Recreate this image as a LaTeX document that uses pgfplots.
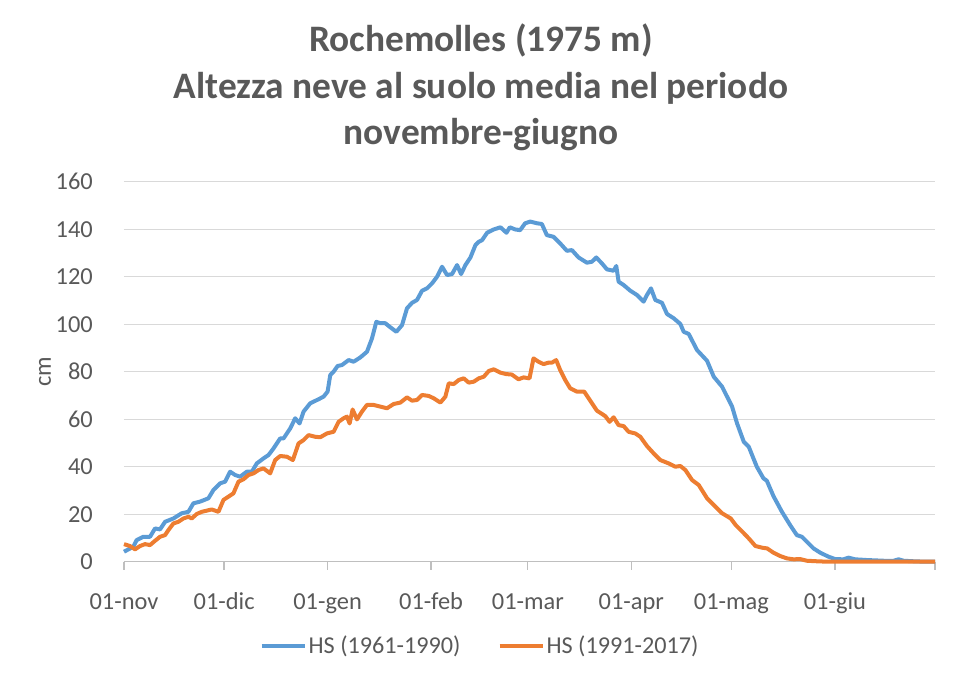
\documentclass[border=0pt]{standalone}
\usepackage{fontspec}
\setmainfont{Carlito}
\usepackage{pgfplots}
\pgfplotsset{compat=1.18}
\definecolor{txt}{HTML}{595959}
\definecolor{gridc}{HTML}{D9D9D9}
\definecolor{axc}{HTML}{BFBFBF}
\definecolor{sblue}{HTML}{5B9BD5}
\definecolor{sorange}{HTML}{ED7D31}
\begin{document}
\begin{tikzpicture}
\useasboundingbox (-124bp,-115.3bp) rectangle (834bp,561.7bp);
\begin{axis}[
  scale only axis, width=811bp, height=380bp,
  at={(0,0)}, anchor=south west,
  xmin=0, xmax=243, ymin=0, ymax=160,
  clip=false,
  axis x line=bottom, axis y line=left,
  axis line style={-},
  y axis line style={draw=none},
  x axis line style={draw=axc, line width=1.3bp},
  ytick={0,20,...,160},
  xtick={0,30,61,92,121,152,182,213,243},
  xticklabels={01-nov,01-dic,01-gen,01-feb,01-mar,01-apr,01-mag,01-giu,},
  ytick style={draw=none},
  xtick style={draw=axc, line width=1.3bp},
  tick align=outside, major tick length=8bp,
  ymajorgrids, grid style={draw=gridc, line width=1.3bp},
  /pgf/number format/assume math mode=true,
  tick label style={font=\fontsize{24.5}{28}\selectfont, text=txt},
  yticklabel style={anchor=east, inner sep=0pt, xshift=-23bp},
  xticklabel style={anchor=base, inner sep=0pt, yshift=-40bp},
  ylabel={cm},
  ylabel style={at={(axis description cs:-0.0974,0.5)}, anchor=center, font=\fontsize{24.5}{28}\selectfont, text=txt},
  legend columns=2,
  legend style={draw=none, fill=none, at={(0.439,-0.221)}, anchor=center,
    font=\fontsize{24.3}{28}\selectfont, text=txt,
    /tikz/every even column/.append style={column sep=35bp}},
  legend image code/.code={\draw[#1, line width=4bp] (0bp,0bp) -- (43bp,0bp);},
  legend cell align=left,
]
\addplot[sblue, line width=4bp, line join=round] coordinates {
(0,4.2) (2.8,6.3) (3.8,9.1) (5.8,10.5) (7.8,10.5) (9.3,14) (10.8,13.6) (12.3,16.8)
(14.8,18.2) (17.3,20.4) (19.3,21) (20.8,24.6) (22.8,25.3) (25.3,26.7) (26.8,30.2)
(28.8,33) (30.3,33.7) (31.8,37.9) (33.3,36.5) (34.8,35.8) (36.8,37.9) (38.3,37.9)
(39.8,41.4) (41.8,43.5) (43.3,44.9) (44.8,47.7) (46.8,51.9) (47.8,51.9) (49.8,56.1)
(51.3,60.4) (52.6,58.2) (53.8,63.2) (55.8,66.7) (58.3,68.4) (59.8,69.5) (61,71.6)
(61.8,78.6) (62.8,80) (64,82.4) (65.3,82.8) (67.3,84.9) (68.8,84.2) (70.8,86)
(72.8,88.4) (74.3,94) (75.6,101) (76.8,100.4) (78.3,100.4) (79.8,98.7) (81.6,96.8)
(83.3,99.6) (84.8,106.7) (86.3,109) (87.8,110.2) (89.3,114.1) (90.8,115.1) (92.3,117.2)
(93.8,120) (95.3,124.2) (96.8,120.7) (98.3,121.1) (99.8,124.9) (101,121.1) (102.3,124.9)
(103.8,128.1) (105.3,133.3) (106.3,134.7) (107.3,135.4) (108.8,138.5) (110.8,139.9)
(112.8,140.8) (114.6,138.5) (115.6,140.8) (117.2,139.9) (118.7,139.6) (120.2,142.5)
(121.7,143.2) (123.7,142.5) (125.2,142.2) (126.7,137.5) (128.7,136.8) (130.7,134)
(132.7,130.9) (134.2,131.2) (136.2,128.1) (138.7,125.9) (140.2,126.3) (141.5,128.1)
(143.2,125.6) (144.7,123.1) (146.7,122.5) (147.5,124.5) (148.2,117.9) (149.7,116.5)
(151.7,114.1) (153.7,112.3) (155.7,109.5) (156.7,112.3) (157.9,115.1) (159.2,110.2)
(161.2,109) (162.7,104.3) (164.7,102.5) (166.7,100.1) (167.7,96.8) (169.2,95.9)
(171.7,89.1) (174.7,84.6) (176.7,77.9) (179.2,73.7) (180.7,69.5) (182.2,65.3)
(183.7,58.2) (185.7,50.5) (187.2,48.4) (189.6,40) (191.6,35.1) (192.6,34.1)
(194.6,27.6) (197.1,21.1) (199.6,15.4) (201.6,11.2) (203.1,10.5) (204.6,8.4)
(206.6,5.6) (208.6,3.8) (211.1,2.1) (213.1,1.1) (215.6,1) (217.1,1.7) (219.1,1)
(222.6,0.7) (227.6,0.4) (230.6,0.4) (232.1,1) (233.6,0.4) (237.6,0.1) (243,0)
};
\addlegendentry{HS (1961-1990)}
\addplot[sorange, line width=4bp, line join=round] coordinates {
(0,7.4) (1.8,6.6) (3.3,5.2) (4.8,6.6) (6.3,7.4) (7.8,7) (9.3,8.8) (10.8,10.5)
(12.3,11.2) (13.3,13.3) (14.8,16.1) (16.3,16.8) (17.8,18.2) (19.3,18.9) (20.3,18.2)
(21.8,20.1) (23.3,21) (24.8,21.5) (26.3,22) (28.3,21) (29.8,26) (31.3,27.4)
(32.8,28.8) (34.3,33.7) (35.8,34.7) (37.3,36.5) (38.8,37.2) (40.3,38.6) (41.8,39.3)
(43.8,37.2) (45.3,42.8) (46.8,44.5) (48.8,44.2) (50.6,42.8) (52.3,49.8) (53.8,51.2)
(55.3,53.3) (57.3,52.6) (58.8,52.4) (60.8,54) (62.8,54.7) (64.3,58.9) (65.8,60.4)
(66.8,61.1) (67.6,58.2) (68.5,64.1) (69.8,59.9) (71.3,63.2) (72.8,66) (74.8,66)
(76.8,65.3) (78.8,64.6) (80.8,66.4) (82.8,67) (84.8,69.2) (86.3,67.8) (87.8,68.1)
(89.3,70.2) (91.3,69.8) (92.8,68.8) (94.8,67) (96.3,69.5) (97.3,75.1) (98.8,74.8)
(100.3,76.5) (101.8,77.2) (103.3,75.4) (104.8,75.8) (106.3,77.2) (107.8,77.9)
(109.3,80.3) (110.8,81) (112.8,79.6) (114.5,79) (116.2,78.8) (118.2,76.8) (119.7,77.6)
(121.5,77.2) (122.7,85.6) (124.2,84.2) (125.7,83.2) (127.2,83.8) (128.2,83.8)
(129.5,84.9) (130.7,80.7) (132.2,76.5) (133.7,73) (135.7,71.6) (137.9,71.6)
(139.7,67.8) (141.7,63.6) (144.2,61.3) (145.5,58.9) (146.7,60.8) (148.2,57.5)
(149.7,57.1) (151.2,54.7) (153.2,54) (154.7,52.6) (156.7,48.7) (158.7,45.6)
(160.7,42.8) (163.2,41.4) (165.2,40) (166.7,40.3) (168.2,38.6) (170.2,34.4)
(172.2,32.3) (174.7,26.7) (177.2,23.2) (179.2,20.4) (181.8,18.2) (183.3,15.4)
(185.3,12.6) (187.2,9.8) (189.2,6.6) (191.2,5.9) (192.7,5.6) (194.6,3.8) (196.6,2.4)
(198.6,1.4) (200.6,1) (202.6,1.1) (204.6,0.4) (208.6,0.1) (212.6,0) (243,0)
};
\addlegendentry{HS (1991-2017)}
\end{axis}
\node[anchor=base, text=txt, font=\fontsize{37.5}{44}\selectfont\bfseries] at (357bp,510bp) {Rochemolles (1975 m)};
\node[anchor=base, text=txt, font=\fontsize{37.5}{44}\selectfont\bfseries] at (357bp,463.4bp) {Altezza neve al suolo media nel periodo};
\node[anchor=base, text=txt, font=\fontsize{37.5}{44}\selectfont\bfseries] at (357bp,416.8bp) {novembre-giugno};
\end{tikzpicture}
\end{document}
